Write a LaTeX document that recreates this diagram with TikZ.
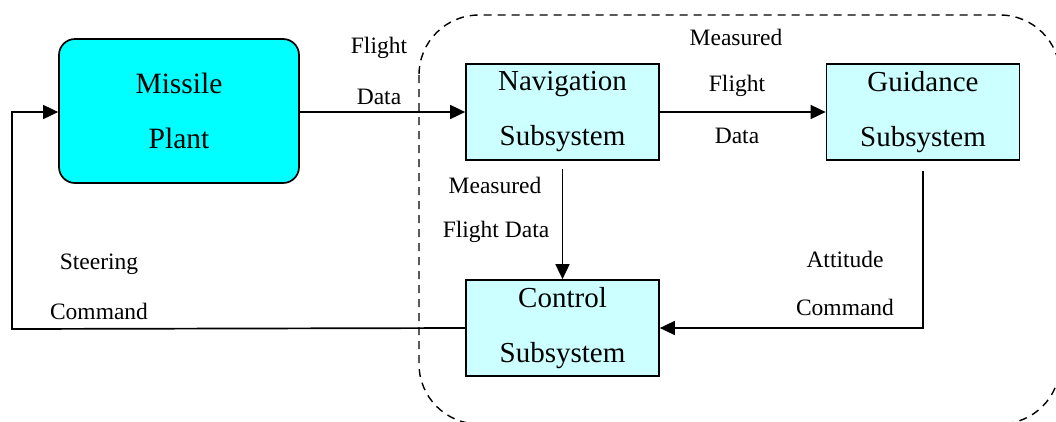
\documentclass[tikz,border=0pt]{standalone}
\usepackage{fontspec}
\setmainfont{Liberation Serif}
\newfontfamily\timesfam{Liberation Serif}
\usetikzlibrary{arrows.meta}
\definecolor{plantcyan}{HTML}{00FFFF}
\definecolor{subcyan}{HTML}{CCFFFF}
\begin{document}
\begin{tikzpicture}[x=1pt,y=-1pt,
  block/.style={draw, line width=1.7pt, fill=subcyan, minimum width=193pt,
    minimum height=96pt, align=center, inner sep=0pt,
    font=\timesfam\fontsize{29}{55}\selectfont},
  plantbox/.style={block, fill=plantcyan, rounded corners=16pt,
    minimum width=240pt, minimum height=144pt, font=\timesfam\fontsize{29.5}{55}\selectfont},
  lbl/.style={font=\timesfam\fontsize{23.5}{24}\selectfont, inner sep=0pt},
  flow/.style={line width=1.7pt, -{Triangle[length=15pt,width=14pt]}},
  zone/.style={line width=1.4pt, dash pattern=on 8pt off 6pt}
]
\useasboundingbox (0,0) rectangle (1056,421);
\fill[white] (0,0) rectangle (1056,421);

% subsystem boundary (runs past the page edges)
\begin{scope}
  \clip (0,0) rectangle (1056,421);
  \draw[zone, rounded corners=60pt] (419,15) rectangle (1060,424);
\end{scope}

% blocks
\node[plantbox] (plant) at (179,111) {Missile\\Plant};
\node[block] (nav)  at (562.5,112) {Navigation\\Subsystem};
\node[block] (guid) at (923,112)   {Guidance\\Subsystem};
\node[block] (ctrl) at (562.5,328) {Control\\Subsystem};

% signal labels
\node[lbl] (lflight) at (379,48)  {Flight};
\node[lbl] (ldata)   at (379,97)  {Data};
\node[lbl] (mmeas)   at (736,37)  {Measured};
\node[lbl] (mflight) at (737,86)  {Flight};
\node[lbl] (mdata)   at (737,136) {Data};
\node[lbl] (vmeas)   at (495,185) {Measured};
\node[lbl] (vfd)     at (496,232) {Flight Data};
\node[lbl] (att)     at (845,259) {Attitude};
\node[lbl] (acmd)    at (845,307) {Command};
\node[lbl] (steer)   at (99,264)  {Steering};
\node[lbl] (scmd)    at (99,311)  {Command};

% feedback corners
\coordinate (fbl) at (12,329);
\coordinate (ftl) at (12,112);

% connectors
\draw[flow] (plant.east |- nav.west) -- (nav.west);
\draw[flow] (nav.east) -- (guid.west);
\draw[flow, shorten <=8pt] (nav.south) -- (ctrl.north);
\draw[flow, shorten <=10pt] (guid.south) -- (guid.south |- ctrl.east) -- (ctrl.east);
\draw[flow] (ctrl.west) -- (fbl) -- (ftl) -- (plant.west |- ftl);
\end{tikzpicture}
\end{document}
